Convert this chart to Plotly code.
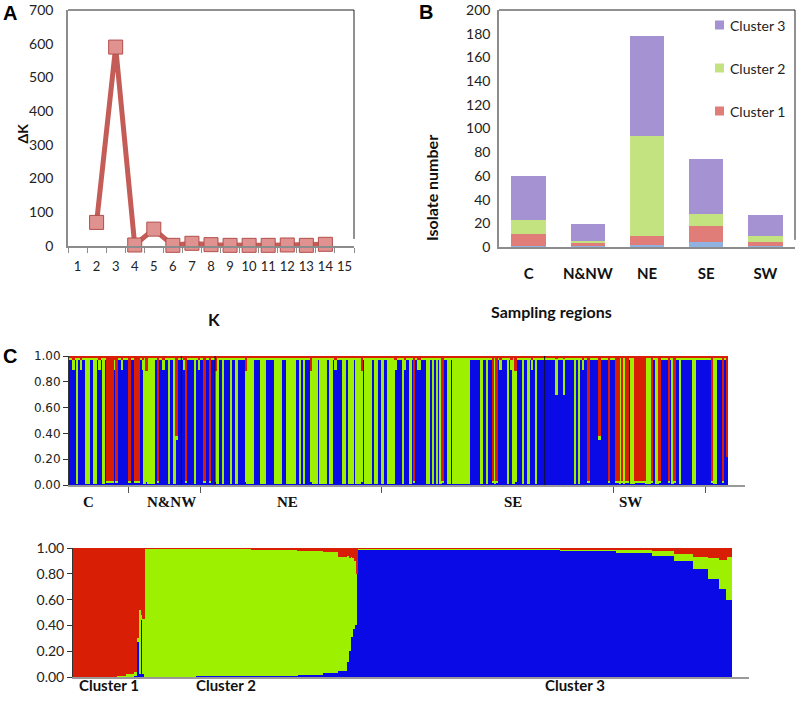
import plotly.graph_objects as go

W, H = 797, 705

# ---------------- Panel A data ----------------
K_TICKS = [str(k) for k in range(1, 16)]
K_VALUES = ["2", "3", "4", "5", "6", "7", "8", "9", "10", "11", "12", "13", "14"]
DELTA_K = [70, 590, 3, 50, 2, 8, 4, 2, 2, 2, 3, 2, 5]

# ---------------- Panel B data ----------------
REGIONS = ["C", "N&NW", "NE", "SE", "SW"]
UNASSIGNED = [1, 1, 2, 4, 1]
CLUSTER1 = [10, 3, 7, 14, 3]
CLUSTER2 = [12, 1, 85, 10, 5]
CLUSTER3 = [37, 14, 84, 46, 18]

# ---------------- Panel C (top) data : one code per isolate ----------------
ORDER_CODES = (
    "BBbB" "G" "BbBB" "GG" "BB" "GG" "BbB" "G" "B" "RRRR" "b" "R" "BBbBBB" "R" "BB" "RRR" "Bb"
    "GgGGGG" "B" "R" "BBbBB" "G" "BB" "G" "r" "BBBb" "R" "BBBB" "G" "BbBB" "R" "BB" "R" "BB"
    "gG" "BB" "G" "BBB" "G" "BB"
    "G" "BBBB" "gGGGG" "BBB" "GGG" "BBBBB" "GGGG" "BB" "GGGGG" "BB" "G" "B" "G" "BBB" "gGGG"
    "B" "GGGG" "B" "GG" "BbBBB" "GG" "B" "GGG" "B" "GGGg" "B" "GGGG" "B" "GG" "BB" "G" "BB"
    "GGGG" "bBBB"
    "G" "bBB" "G" "B" "R" "BbbBBB" "GG" "B" "G" "B" "G" "B" "G" "R" "BB" "GG" "B" "GGGGGGGGG"
    "BBBBBB" "G" "BB" "G" "BB" "R" "G" "R" "BbBBB" "G" "Bb" "Gg" "BBB" "G" "BB" "G" "BbB" "G"
    "BBB" "BBBBBBBhBBBhBB"
    "BBB" "G" "B" "G" "BbBB" "R" "BBBBB" "r" "BBBB" "R" "BBB" "RRGR" "G" "RR" "B" "GG" "R"
    "RRR" "RR" "GGG" "R" "B" "GG" "R" "BBBB" "R" "B" "G" "R" "BB" "G" "BBBBBB" "GG" "BBBBBBBB"
    "R" "GG" "BBB" "R" "B" "x"
)
# membership (cluster 1 red, cluster 2 green, cluster 3 blue) for each code
CODE_Q = {
    "B": (0.015, 0.01, 0.975),
    "b": (0.03, 0.08, 0.89),
    "h": (0.02, 0.28, 0.70),
    "G": (0.015, 0.975, 0.01),
    "g": (0.12, 0.86, 0.02),
    "R": (0.97, 0.01, 0.02),
    "r": (0.62, 0.03, 0.35),
    "x": (0.78, 0.00, 0.22),
}
REGION_BOUNDS = [31.5, 69.5, 166.5, 290.5, 339.5]
REGION_NAMES = ["C", "N&NW", "NE", "SE", "SW"]
REGION_LABEL_POS = [10, 54.5, 116, 236.5, 299.5]
SEPARATORS = [59.5, 77.5, 253.5]
Y_TICKS = [0.0, 0.2, 0.4, 0.6, 0.8, 1.0]
Y_TICK_TEXT = ["0.00", "0.20", "0.40", "0.60", "0.80", "1.00"]

# ---------------- Panel C (bottom) data : sorted runs (count, q1, q2, q3) ----------------
SORTED_RUNS = [
    (24, 1.00, 0.00, 0.00), (5, 0.99, 0.01, 0.00), (4, 0.98, 0.02, 0.00),
    (2, 0.96, 0.03, 0.01), (1, 0.70, 0.03, 0.27), (1, 0.48, 0.50, 0.02),
    (1, 0.52, 0.04, 0.44), (1, 0.55, 0.43, 0.02),
    (28, 0.005, 0.995, 0.0), (30, 0.006, 0.989, 0.005), (25, 0.01, 0.98, 0.01),
    (14, 0.02, 0.965, 0.015), (8, 0.03, 0.94, 0.03), (5, 0.07, 0.88, 0.05),
    (1, 0.06, 0.82, 0.12), (1, 0.08, 0.72, 0.20), (1, 0.07, 0.62, 0.31),
    (1, 0.08, 0.55, 0.37), (1, 0.10, 0.50, 0.40),
    (1, 0.20, 0.00, 0.80), (60, 0.004, 0.006, 0.99), (50, 0.005, 0.01, 0.985),
    (30, 0.008, 0.017, 0.975), (20, 0.015, 0.025, 0.96), (12, 0.025, 0.035, 0.94),
    (10, 0.05, 0.05, 0.90), (8, 0.07, 0.09, 0.84), (6, 0.08, 0.16, 0.76),
    (4, 0.09, 0.23, 0.68), (3, 0.07, 0.33, 0.60),
]
CLUSTER_NAMES = ["Cluster 1", "Cluster 2", "Cluster 3"]
CLUSTER_LABEL_POS = [19, 82.5, 272]

# ---------------- styling ----------------
RED, GREEN, BLUE = "#d81e05", "#9cf000", "#0a0ae6"
B_COLORS = {"u": "#8fb2e0", "c1": "#e07d78", "c2": "#c2e37f", "c3": "#a492d3"}
SANS = "Lato"
GRAY = "#8c8c8c"


def px(x):
    return x / W


def py(y):
    return 1 - y / H


# expand top-panel codes
top_q1 = [CODE_Q[c][0] for c in ORDER_CODES]
top_q2 = [CODE_Q[c][1] for c in ORDER_CODES]
top_q3 = [CODE_Q[c][2] for c in ORDER_CODES]
N_TOP = len(ORDER_CODES)
top_x = list(range(N_TOP))

bot_q1, bot_q2, bot_q3 = [], [], []
for n, a, b, c in SORTED_RUNS:
    bot_q1 += [a] * n
    bot_q2 += [b] * n
    bot_q3 += [c] * n
N_BOT = len(bot_q1)
bot_x = list(range(N_BOT))

fig = go.Figure()

# Panel A
fig.add_trace(go.Scatter(
    x=K_VALUES, y=DELTA_K, mode="lines+markers", xaxis="x", yaxis="y",
    line=dict(color="#c45c57", width=5),
    marker=dict(symbol="square", size=14, color="#e09290", line=dict(color="#b24e49", width=1)),
    showlegend=False, cliponaxis=False,
))

# Panel B
for vals, key in [(UNASSIGNED, "u"), (CLUSTER1, "c1"), (CLUSTER2, "c2"), (CLUSTER3, "c3")]:
    fig.add_trace(go.Bar(x=REGIONS, y=vals, xaxis="x2", yaxis="y2", width=0.58,
                         marker=dict(color=B_COLORS[key], line=dict(width=0)), showlegend=False))

# Panel C top
for vals, col in [(top_q3, BLUE), (top_q2, GREEN), (top_q1, RED)]:
    fig.add_trace(go.Bar(x=top_x, y=vals, xaxis="x3", yaxis="y3", width=1,
                         marker=dict(color=col, line=dict(width=0)), showlegend=False))

# Panel C bottom
for vals, col in [(bot_q3, BLUE), (bot_q2, GREEN), (bot_q1, RED)]:
    fig.add_trace(go.Bar(x=bot_x, y=vals, xaxis="x4", yaxis="y4", width=1,
                         marker=dict(color=col, line=dict(width=0)), showlegend=False))

tick_font = dict(family=SANS, size=14, color="#222")

fig.update_layout(
    template="none",
    width=W, height=H, margin=dict(l=0, r=0, t=0, b=0, autoexpand=False),
    paper_bgcolor="white", plot_bgcolor="white",
    barmode="stack", bargap=0,
    xaxis=dict(domain=[px(68), px(354)], anchor="y", type="category", categoryorder="array",
               categoryarray=K_TICKS, tickvals=K_TICKS, range=[-0.5, 14.5], tickson="boundaries",
               ticks="outside", ticklen=5, tickcolor=GRAY, showline=True, linecolor=GRAY,
               linewidth=1.5, showgrid=False, tickangle=0, automargin=False,
               tickfont=dict(family=SANS, size=13, color="#222"), ticklabelstandoff=8),
    yaxis=dict(domain=[py(246), py(10)], anchor="x", range=[0, 700], dtick=100, showgrid=False,
               showline=True, linecolor=GRAY, linewidth=1.5, ticks="", tickfont=tick_font,
               zeroline=False, ticklabelstandoff=10, automargin=False,
               ticklabeloverflow="allow"),
    xaxis2=dict(domain=[px(499), px(795)], anchor="y2", showline=True, linecolor=GRAY,
                linewidth=1.5, ticks="", showgrid=False, range=[-0.5, 4.5], automargin=False,
                tickfont=dict(family=SANS, size=15, color="#111", weight="bold"),
                ticklabelstandoff=12),
    yaxis2=dict(domain=[py(247), py(10)], anchor="x2", range=[0, 200], dtick=20, showgrid=False,
                showline=True, linecolor=GRAY, linewidth=1.5, ticks="", tickfont=tick_font,
                zeroline=False, ticklabelstandoff=4, automargin=False,
                ticklabeloverflow="allow"),
    xaxis3=dict(domain=[px(69), px(745)], anchor="y3", range=[-0.5, N_TOP - 0.5 + 9],
                tickvals=REGION_BOUNDS, ticktext=[""] * len(REGION_BOUNDS), ticks="outside",
                ticklen=6, tickcolor="#555", showline=True, linecolor="#999", linewidth=2,
                showgrid=False, zeroline=False, automargin=False),
    yaxis3=dict(domain=[py(485), py(356)], anchor="x3", range=[0, 1], tickvals=Y_TICKS,
                ticktext=Y_TICK_TEXT, ticks="outside", ticklen=5, tickcolor="#333",
                showline=True, linecolor="#333", linewidth=1, showgrid=False, zeroline=False,
                automargin=False, tickfont=dict(family="DejaVu Sans", size=12, color="#222")),
    xaxis4=dict(domain=[px(73), px(749)], anchor="y4", range=[-0.5, N_BOT - 0.5 + 9.2],
                showticklabels=False, ticks="", showline=True, linecolor="#999", linewidth=2,
                showgrid=False, zeroline=False, automargin=False),
    yaxis4=dict(domain=[py(677), py(548)], anchor="x4", range=[0, 1], tickvals=Y_TICKS,
                ticktext=Y_TICK_TEXT, ticks="outside", ticklen=5, tickcolor="#333",
                showline=True, linecolor="#333", linewidth=1, showgrid=False, zeroline=False,
                automargin=False, tickfont=dict(family=SANS, size=14, color="#222")),
)

shapes = []
# frames (top and right edges) for A and B
for xr, yr in [("x", "y"), ("x2", "y2")]:
    shapes.append(dict(type="line", xref=f"{xr} domain", yref=f"{yr} domain",
                       x0=0, x1=1, y0=1, y1=1, line=dict(color="#222", width=1)))
    shapes.append(dict(type="line", xref=f"{xr} domain", yref=f"{yr} domain",
                       x0=1, x1=1, y0=0.03, y1=1, line=dict(color="#222", width=1)))
# population separators in top C
for s in SEPARATORS:
    shapes.append(dict(type="line", xref="x3", yref="y3", x0=s, x1=s, y0=0, y1=1,
                       line=dict(color="#101030", width=1)))

annotations = []
# panel letters
for letter, x, y in [("A", 10, 13), ("B", 426, 12), ("C", 10, 356)]:
    annotations.append(dict(text=letter, x=px(x), y=py(y), xref="paper", yref="paper",
                            showarrow=False, xanchor="center", yanchor="middle",
                            font=dict(family="Liberation Sans", size=20, color="#000", weight="bold")))
# Panel A titles
annotations.append(dict(text="ΔK", x=px(11), y=py(122), xref="paper", yref="paper", textangle=-90,
                        showarrow=False, font=dict(family=SANS, size=14, color="#111", weight="bold")))
annotations.append(dict(text="K", x=px(206), y=py(319), xref="paper", yref="paper",
                        showarrow=False, font=dict(family=SANS, size=17, color="#111", weight="bold")))
# Panel B titles
annotations.append(dict(text="Isolate number", x=px(432), y=py(133), xref="paper", yref="paper",
                        textangle=-90, showarrow=False,
                        font=dict(family=SANS, size=16, color="#111", weight="bold")))
annotations.append(dict(text="Sampling regions", x=px(614), y=py(311), xref="paper", yref="paper",
                        showarrow=False, font=dict(family=SANS, size=16, color="#111", weight="bold")))
# Panel B legend (manual)
for name, key, yc in [("Cluster 3", "c3", 25), ("Cluster 2", "c2", 68), ("Cluster 1", "c1", 111)]:
    shapes.append(dict(type="rect", xref="paper", yref="paper", x0=px(715), x1=px(724),
                       y0=py(yc + 4.5), y1=py(yc - 4.5), fillcolor=B_COLORS[key], line=dict(width=0)))
    annotations.append(dict(text=name, x=px(728), y=py(yc), xref="paper", yref="paper",
                            xanchor="left", yanchor="middle", showarrow=False,
                            font=dict(family=SANS, size=14, color="#222")))
# region labels top C
for name, pos in zip(REGION_NAMES, REGION_LABEL_POS):
    annotations.append(dict(text=name, x=pos, y=py(512), xref="x3", yref="paper", showarrow=False,
                            font=dict(family="Liberation Serif", size=15, color="#111", weight="bold")))
# cluster labels bottom C
for name, pos in zip(CLUSTER_NAMES, CLUSTER_LABEL_POS):
    annotations.append(dict(text=name, x=pos, y=py(696), xref="x4", yref="paper", showarrow=False,
                            font=dict(family=SANS, size=15, color="#111", weight="bold")))

fig.update_layout(shapes=shapes, annotations=annotations)
fig.write_html("out.html", config={"displayModeBar": False},
               post_script="document.body.style.margin='0';document.body.style.overflow='hidden';")
